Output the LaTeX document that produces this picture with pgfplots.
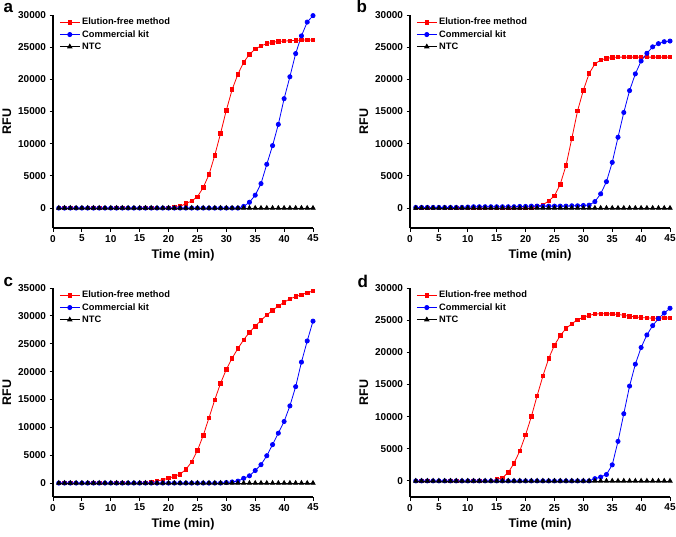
\documentclass[border=0pt]{standalone}
\usepackage{fontspec}
\setmainfont{Liberation Sans}
\usepackage{pgfplots}
\usepackage{pgfplotstable}
\pgfplotsset{compat=1.18}

% columns: time, elution-free method, commercial kit, NTC
\pgfplotstableread{
t ef ck ntc
1 0 0 0
2 0 0 0
3 0 0 0
4 0 0 0
5 0 0 0
6 0 0 0
7 0 0 0
8 0 0 0
9 0 0 0
10 0 0 0
11 0 0 0
12 0 0 0
13 0 0 0
14 0 0 0
15 0 0 0
16 0 0 0
17 0 0 0
18 0 0 0
19 0 0 0
20 0 0 0
21 100 0 0
22 250 0 0
23 700 0 0
24 1100 0 0
25 1750 0 0
26 3200 0 0
27 5200 0 0
28 8200 0 0
29 11600 0 0
30 15200 0 0
31 18400 0 0
32 20800 0 0
33 22650 250 0
34 23900 900 0
35 24700 2000 0
36 25200 3800 0
37 25550 6800 0
38 25750 9700 0
39 25900 13000 0
40 25950 17000 0
41 26000 20400 0
42 26050 24000 0
43 26100 26750 0
44 26100 28900 0
45 26100 29900 0
}\dataA

\pgfplotstableread{
t ef ck ntc
1 0 100 0
2 0 100 0
3 0 100 0
4 0 100 0
5 0 100 0
6 0 100 0
7 0 100 0
8 0 100 0
9 0 100 0
10 0 150 0
11 0 200 0
12 0 200 0
13 0 200 0
14 0 200 0
15 0 200 0
16 0 200 0
17 0 200 0
18 0 200 0
19 0 250 0
20 0 250 0
21 0 300 0
22 300 300 0
23 500 300 0
24 1100 300 0
25 1900 300 0
26 3700 300 0
27 6600 300 0
28 10800 350 0
29 15100 350 0
30 18300 400 0
31 20900 450 0
32 22400 1000 0
33 23000 2200 0
34 23250 4100 0
35 23400 7100 0
36 23450 11000 0
37 23450 14850 0
38 23450 18250 0
39 23450 20850 0
40 23450 22850 0
41 23450 24050 0
42 23450 25050 0
43 23450 25550 0
44 23450 25850 0
45 23450 25950 0
}\dataB

\pgfplotstableread{
t ef ck ntc
1 0 0 0
2 0 0 0
3 0 0 0
4 0 0 0
5 0 0 0
6 0 0 0
7 0 0 0
8 0 0 0
9 0 0 0
10 0 0 0
11 0 0 0
12 0 0 0
13 0 0 0
14 0 0 0
15 0 0 0
16 0 0 0
17 100 0 0
18 350 0 0
19 600 0 0
20 900 0 0
21 1200 0 0
22 1600 0 0
23 2450 0 0
24 3800 0 0
25 5850 0 0
26 8550 0 0
27 11700 0 0
28 14950 0 0
29 17900 0 0
30 20400 100 0
31 22400 200 0
32 24150 350 0
33 25700 850 0
34 27050 1300 0
35 28150 2250 0
36 29200 3300 0
37 30150 4900 0
38 31000 6900 0
39 31750 8950 0
40 32450 11050 0
41 33050 13850 0
42 33450 17300 0
43 33800 21700 0
44 34150 25500 0
45 34450 29050 0
}\dataC

\pgfplotstableread{
t ef ck ntc
1 0 0 0
2 0 0 0
3 0 0 0
4 0 0 0
5 0 0 0
6 0 0 0
7 0 0 0
8 0 0 0
9 0 0 0
10 0 0 0
11 0 0 0
12 0 0 0
13 0 0 0
14 0 0 0
15 200 0 0
16 500 0 0
17 1300 0 0
18 2750 0 0
19 4650 0 0
20 7150 0 0
21 10000 0 0
22 13250 0 0
23 16300 0 0
24 19050 0 0
25 21100 0 0
26 22600 0 0
27 23700 0 0
28 24450 0 0
29 25050 0 0
30 25450 0 0
31 25750 0 0
32 25950 350 0
33 26000 600 0
34 26000 1000 0
35 25950 2500 0
36 25900 6150 0
37 25750 10450 0
38 25600 14750 0
39 25500 18150 0
40 25400 20750 0
41 25350 22700 0
42 25300 24150 0
43 25300 25250 0
44 25350 26100 0
45 25350 26850 0
}\dataD

\pgfplotsset{
  rfu/.style={
    scale only axis,
    width=260pt,
    xmin=0, xmax=45,
    xtick={0,5,...,45},
    axis lines*=left,
    axis line style={line width=1.1pt, -},
    tick align=outside,
    major tick length=3.5pt,
    tick style={line width=0.9pt, black},
    ticklabel style={font=\fontsize{10}{12}\selectfont\bfseries},
    /pgf/number format/assume math mode=true,
    /pgf/number format/1000 sep={},
    scaled y ticks=false,
    xlabel={Time (min)},
    ylabel={RFU},
    label style={font=\fontsize{12.5}{14}\selectfont\bfseries},
    legend style={draw=none, fill=none, at={(0.02,1.0)}, anchor=north west,
      font=\fontsize{9.3}{10}\selectfont\bfseries, row sep=0pt, inner sep=1pt},
    legend cell align=left,
    legend image code/.code={
      \draw[mark repeat=2, mark phase=2]
        plot coordinates {(0pt,0pt) (10pt,0pt) (20pt,0pt)};
    },
  },
  efm/.style={red, line width=0.8pt, mark=square*, mark size=1.75pt},
  ckm/.style={blue, line width=0.8pt, mark=*, mark size=2.1pt},
  ntcm/.style={black, line width=0.8pt, mark=triangle*, mark size=2.4pt},
}

\begin{document}
\begin{tikzpicture}
\useasboundingbox (0,0) rectangle (676pt,536pt);

% a
\begin{axis}[rfu, at={(53pt,308pt)}, anchor=south west, height=213pt,
    ymin=-3100, ymax=30000, ytick={0,5000,...,30000}]
  \addplot[efm] table[x=t, y=ef] {\dataA};
  \addplot[ckm] table[x=t, y=ck] {\dataA};
  \addplot[ntcm] table[x=t, y=ntc] {\dataA};
  \legend{Elution-free method, Commercial kit, NTC}
\end{axis}

% b
\begin{axis}[rfu, at={(410pt,308pt)}, anchor=south west, height=213pt,
    ymin=-3100, ymax=30000, ytick={0,5000,...,30000}]
  \addplot[efm] table[x=t, y=ef] {\dataB};
  \addplot[ckm] table[x=t, y=ck] {\dataB};
  \addplot[ntcm] table[x=t, y=ntc] {\dataB};
  \legend{Elution-free method, Commercial kit, NTC}
\end{axis}

% c
\begin{axis}[rfu, at={(53pt,39pt)}, anchor=south west, height=209pt,
    ymin=-2500, ymax=35000, ytick={0,5000,...,35000}]
  \addplot[efm] table[x=t, y=ef] {\dataC};
  \addplot[ckm] table[x=t, y=ck] {\dataC};
  \addplot[ntcm] table[x=t, y=ntc] {\dataC};
  \legend{Elution-free method, Commercial kit, NTC}
\end{axis}

% d
\begin{axis}[rfu, at={(410pt,39pt)}, anchor=south west, height=209pt,
    ymin=-2500, ymax=30000, ytick={0,5000,...,30000}]
  \addplot[efm] table[x=t, y=ef] {\dataD};
  \addplot[ckm] table[x=t, y=ck] {\dataD};
  \addplot[ntcm] table[x=t, y=ntc] {\dataD};
  \legend{Elution-free method, Commercial kit, NTC}
\end{axis}

\node[anchor=base west, font=\fontsize{17}{17}\selectfont\bfseries] at (0pt,523pt) {a};
\node[anchor=base west, font=\fontsize{17}{17}\selectfont\bfseries] at (353pt,523pt) {b};
\node[anchor=base west, font=\fontsize{17}{17}\selectfont\bfseries] at (0pt,250pt) {c};
\node[anchor=base west, font=\fontsize{17}{17}\selectfont\bfseries] at (354pt,249pt) {d};
\end{tikzpicture}
\end{document}
